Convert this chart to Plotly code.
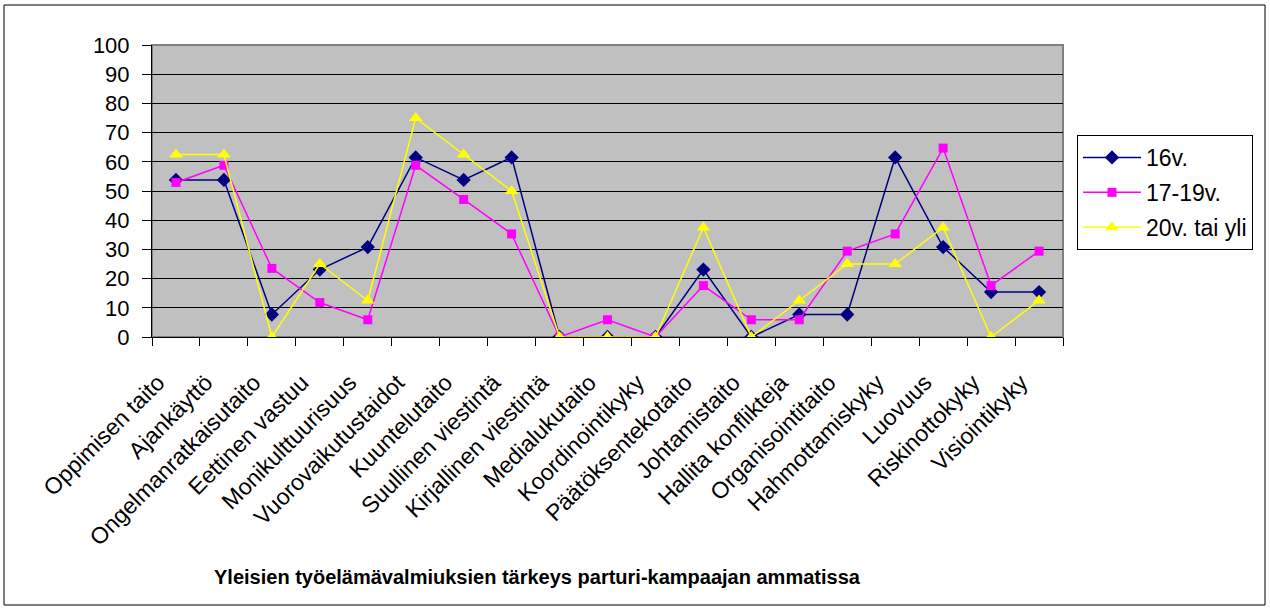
import plotly.graph_objects as go

categories = ["Oppimisen taito", "Ajankäyttö", "Ongelmanratkaisutaito", "Eettinen vastuu",
              "Monikulttuurisuus", "Vuorovaikutustaidot", "Kuuntelutaito", "Suullinen viestintä",
              "Kirjallinen viestintä", "Medialukutaito", "Koordinointikyky", "Päätöksentekotaito",
              "Johtamistaito", "Hallita konflikteja", "Organisointitaito", "Hahmottamiskyky",
              "Luovuus", "Riskinottokyky", "Visiointikyky"]

v16 = [53.8, 53.8, 7.7, 23.1, 30.8, 61.5, 53.8, 61.5, 0, 0, 0, 23.1, 0, 7.7, 7.7, 61.5, 30.8, 15.4, 15.4]
v17_19 = [52.9, 58.8, 23.5, 11.8, 5.9, 58.8, 47.1, 35.3, 0, 5.9, 0, 17.6, 5.9, 5.9, 29.4, 35.3, 64.7, 17.6, 29.4]
v20 = [62.5, 62.5, 0, 25, 12.5, 75, 62.5, 50, 0, 0, 0, 37.5, 0, 12.5, 25, 25, 37.5, 0, 12.5]

series_names = ["16v.", "17-19v.", "20v. tai yli"]
title_text = "Yleisien työelämävalmiuksien tärkeys parturi-kampaajan ammatissa"
yticks = [0, 10, 20, 30, 40, 50, 60, 70, 80, 90, 100]

FONT = "Liberation Sans, Arial, sans-serif"

fig = go.Figure()
fig.add_trace(go.Scatter(x=categories, y=v16, name=series_names[0], mode="lines+markers",
                         legendgroup="a",
                         line=dict(color="#000080", width=1.5),
                         marker=dict(symbol="diamond", size=11, color="#000080")))
fig.add_trace(go.Scatter(x=categories, y=v17_19, name=series_names[1], mode="lines+markers",
                         legendgroup="b",
                         line=dict(color="#FF00FF", width=1.5),
                         marker=dict(symbol="square", size=9, color="#FF00FF")))
fig.add_trace(go.Scatter(x=categories, y=v20, name=series_names[2], mode="lines+markers",
                         legendgroup="c",
                         line=dict(color="#FFFF00", width=1.5),
                         marker=dict(symbol="triangle-up", size=12, color="#FFFF00")))

L, R, T, B = 152, 207, 45, 275
W, H = 1270, 612
pw, ph = W - L - R, H - T - B

def px(x):
    return (x - L) / pw

def py(y):
    return (H - B - y) / ph

fig.update_layout(
    width=W, height=H,
    margin=dict(l=L, r=R, t=T, b=B, autoexpand=False),
    paper_bgcolor="white", plot_bgcolor="#C0C0C0",
    font=dict(family=FONT, size=22, color="black"),
    showlegend=True,
    legend=dict(x=px(1077), y=py(135), xanchor="left", yanchor="top",
                bgcolor="white", bordercolor="black", borderwidth=1,
                font=dict(family=FONT, size=23), tracegroupgap=2, itemwidth=58),
    xaxis=dict(type="category", tickson="boundaries", ticks="outside", ticklen=8,
               tickcolor="black", showline=True, linecolor="black", linewidth=1,
               showgrid=False, tickangle=-45, tickfont=dict(size=23, family=FONT),
               ticklabelstandoff=22, ticklabelshift=-18,
               range=[-0.5, len(categories) - 0.5]),
    yaxis=dict(range=[0, 100], tickvals=yticks, ticks="outside", ticklen=9,
               tickcolor="black", showline=True, linecolor="black", linewidth=1,
               showgrid=True, gridcolor="black", gridwidth=1, zeroline=False,
               ticklabelstandoff=8,
               tickfont=dict(size=22, family=FONT)),
    annotations=[dict(text="<b>" + title_text + "</b>", xref="paper", yref="paper",
                      x=px(537), y=py(577), xanchor="center", yanchor="middle",
                      showarrow=False, font=dict(family=FONT, size=20, color="black"))],
    shapes=[
        dict(type="rect", xref="paper", yref="paper", x0=0, x1=1, y0=0, y1=1,
             line=dict(color="#808080", width=2), layer="below"),
        dict(type="rect", xref="paper", yref="paper", x0=px(4), x1=px(1265), y0=py(605), y1=py(5),
             line=dict(color="black", width=1), layer="below"),
    ],
)

fig.write_html("out.html", config={"displayModeBar": False},
               post_script="document.body.style.margin='0';")
